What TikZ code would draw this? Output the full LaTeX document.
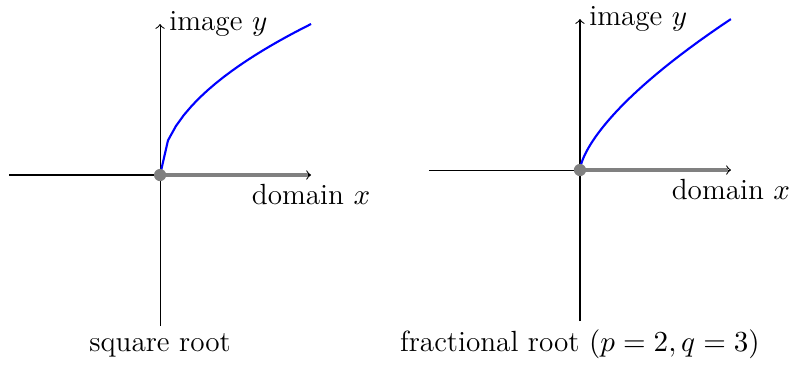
\documentclass[tikz,border=0pt]{standalone}
\usepackage{amsmath, amssymb}
\usepackage{tikz}
\usetikzlibrary{positioning}
\tikzset{curve/.style={blue, thick}}
\tikzset{halfaxis/.style={gray, line width=1.5pt}}
\tikzset{origin/.style={circle, fill=gray, inner sep=0pt, minimum size=4.6pt}}

\begin{document}
\begin{tikzpicture}[x=2cm,y=2cm,font=\fontsize{11}{13}\selectfont]
\useasboundingbox (-1.060,-1.258) rectangle (4.205,1.159);
% square root
\draw[->] (-1,0) -- (1,0) node[below] (domA) {domain $x$};
\draw[->] (0,-1) -- (0,1) node[right] (imgA) {image $y$};
\draw[halfaxis] (0,0) -- (0.98,0);
\draw[curve, domain=0:1, samples=20] plot (\x,{sqrt(\x)});
\node[origin] (oA) at (0,0) {};
\node[anchor=base] (capA) at (0,-1.172) {square root};
% fractional root
\begin{scope}[shift={(2.781,0.033)}]
\draw[->] (-1,0) -- (1,0) node[below] (domB) {domain $x$};
\draw[->] (0,-1) -- (0,1) node[right] (imgB) {image $y$};
\draw[halfaxis] (0,0) -- (0.98,0);
\draw[curve, domain=0:1, samples=40] plot ({\x*\x*\x},{\x*\x});
\node[origin] (oB) at (0,0) {};
\end{scope}
\node[anchor=base] (capB) at (2.781,-1.172) {fractional root $(p=2, q=3)$};
\end{tikzpicture}
\end{document}
